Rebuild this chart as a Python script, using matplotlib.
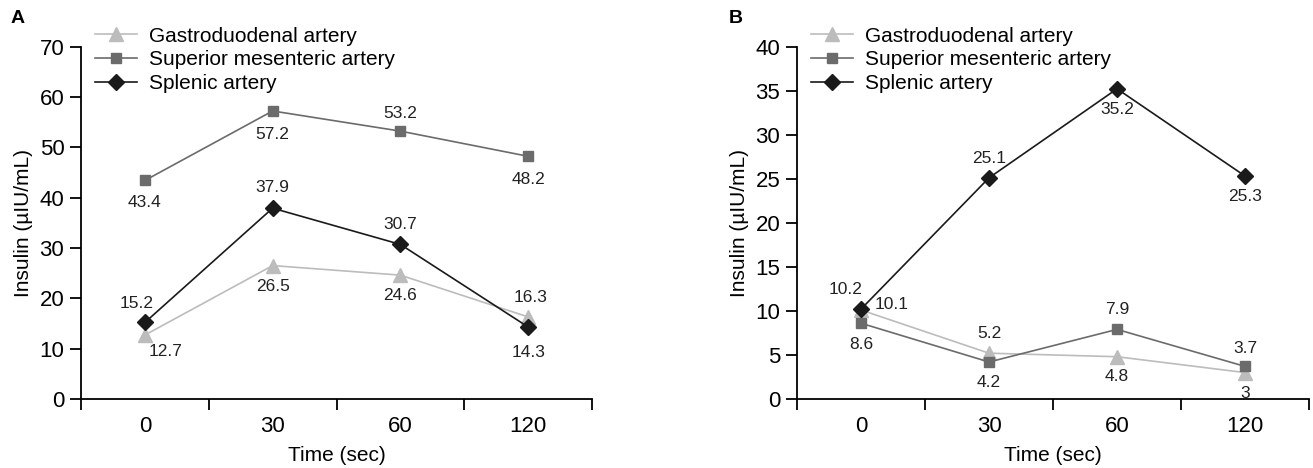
import matplotlib
matplotlib.use("Agg")
import matplotlib.pyplot as plt

plt.rcParams['font.family'] = ['Liberation Sans Narrow', 'Liberation Sans', 'DejaVu Sans']

times = ['0', '30', '60', '120']
series_names = ['Gastroduodenal artery', 'Superior mesenteric artery', 'Splenic artery']

# panel A
gda_a = [12.7, 26.5, 24.6, 16.3]
sma_a = [43.4, 57.2, 53.2, 48.2]
spl_a = [15.2, 37.9, 30.7, 14.3]

# panel B
gda_b = [10.1, 5.2, 4.8, 3]
sma_b = [8.6, 4.2, 7.9, 3.7]
spl_b = [10.2, 25.1, 35.2, 25.3]

colors = ['#bcbcbc', '#6b6b6b', '#1a1a1a']
markers = ['^', 's', 'D']
msizes = [10, 7.5, 8.5]

# label offsets (points) per series / point
offs_a = [
    [(15, -12), (0, -15), (0, -15), (2, 14)],
    [(0, -16), (0, -17), (0, 13), (0, -17)],
    [(-6, 14), (0, 15), (0, 14), (0, -18)],
]
offs_b = [
    [(22, 4), (0, 14), (0, -14), (0, -15)],
    [(0, -15), (0, -15), (0, 14), (0, 13)],
    [(-11, 14), (0, 14), (0, -15), (0, -15)],
]

fig = plt.figure(figsize=(13.13, 4.68), dpi=100)
axA = fig.add_axes([0.0617, 0.1474, 0.3892, 0.7532])
axB = fig.add_axes([0.6070, 0.1474, 0.3900, 0.7532])


def draw(ax, data, offs, ymax, ystep):
    x = list(range(len(times)))
    for vals, c, m, ms, name, off in zip(data, colors, markers, msizes, series_names, offs):
        ax.plot(x, vals, color=c, marker=m, markersize=ms, lw=1.2,
                markeredgecolor=c, label=name, clip_on=False)
        for xi, v, o in zip(x, vals, off):
            ax.annotate(f'{v:g}', (xi, v), xytext=o, textcoords='offset points',
                        ha='center', va='center', fontsize=12.5, color='#222222')
    ax.set_xlim(-0.5, len(times) - 0.5)
    ax.set_ylim(0, ymax)
    ax.set_yticks(range(0, ymax + 1, ystep))
    ax.set_xticks([i - 0.5 for i in range(len(times) + 1)])
    ax.set_xticklabels([])
    ax.set_xticks(x, minor=True)
    ax.set_xticklabels(times, minor=True)
    ax.tick_params(axis='x', which='major', length=8, width=1.3, direction='out')
    ax.tick_params(axis='x', which='minor', length=0, pad=12, labelsize=16)
    ax.tick_params(axis='y', length=8, width=1.3, direction='out', labelsize=16, pad=4)
    for s in ['top', 'right']:
        ax.spines[s].set_visible(False)
    for s in ['left', 'bottom']:
        ax.spines[s].set_linewidth(1.3)
    ax.set_xlabel('Time (sec)', fontsize=15, labelpad=7)
    ax.set_ylabel('Insulin (\u00b5IU/mL)', fontsize=15, labelpad=5)
    ax.legend(loc='upper left', bbox_to_anchor=(0.02, 1.068), frameon=False,
              fontsize=15, handlelength=2.0, handletextpad=0.55,
              labelspacing=0.22, borderaxespad=0, borderpad=0.2)


draw(axA, [gda_a, sma_a, spl_a], offs_a, 70, 10)
draw(axB, [gda_b, sma_b, spl_b], offs_b, 40, 5)

fig.text(0.008, 0.96, 'A', fontsize=14, fontweight='bold', va='center')
fig.text(0.555, 0.96, 'B', fontsize=14, fontweight='bold', va='center')

fig.savefig('out.png', dpi=100)
